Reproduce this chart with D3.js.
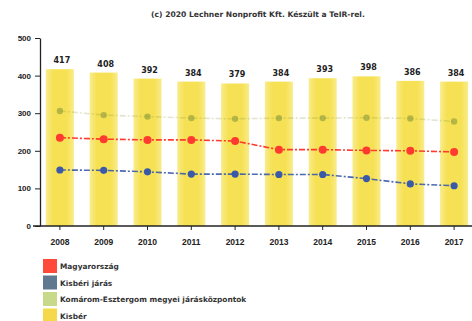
<!DOCTYPE html>
<html>
<head>
<meta charset="utf-8">
<script src="https://cdn.jsdelivr.net/npm/d3@7"></script>
<style>
  html, body { margin: 0; padding: 0; background: #fff; }
  svg { display: block; font-family: "DejaVu Sans", sans-serif; }
</style>
</head>
<body>
<svg id="chart" width="472" height="321"></svg>
<script>
// Years on the x axis
const years = ["2008", "2009", "2010", "2011", "2012", "2013", "2014", "2015", "2016", "2017"];
// Kisbér (bars)
const kisber = [417, 408, 392, 384, 379, 384, 393, 398, 386, 384];
// Magyarország
const magyarorszag = [235, 231, 229, 229, 226, 203, 203, 201, 200, 197];
// Kisbéri járás
const kisberiJaras = [149, 148, 144, 138, 138, 137, 137, 126, 112, 107];
// Komárom-Esztergom megyei járásközpontok
const komarom = [306, 295, 291, 287, 285, 287, 287, 288, 286, 278];
const yTicks = [0, 100, 200, 300, 400, 500];
const legendLabels = ["Magyarország", "Kisbéri járás", "Komárom-Esztergom megyei járásközpontok", "Kisbér"];

const svg = d3.select("#chart");
const defs = svg.append("defs");
const grad = defs.append("linearGradient").attr("id", "barGrad")
  .attr("x1", "0%").attr("x2", "100%").attr("y1", "0%").attr("y2", "0%");
grad.append("stop").attr("offset", "0%").attr("stop-color", "#f9ec8c");
grad.append("stop").attr("offset", "25%").attr("stop-color", "#f6e155");
grad.append("stop").attr("offset", "75%").attr("stop-color", "#f6e155");
grad.append("stop").attr("offset", "100%").attr("stop-color", "#f9ec8c");

const x = d3.scaleBand().domain(years).range([38, 476]).paddingInner(0.36).paddingOuter(0.18);
const y = d3.scaleLinear().domain([0, 500]).range([226, 38]);
const cx = d => x(d) + x.bandwidth() / 2;

// Bars
svg.append("g").selectAll("rect").data(years).join("rect")
  .attr("x", d => x(d))
  .attr("y", (d, i) => y(kisber[i]))
  .attr("width", x.bandwidth())
  .attr("height", (d, i) => y(0) - y(kisber[i]))
  .attr("fill", "url(#barGrad)");

// Bar value labels
svg.append("g").selectAll("text").data(years).join("text")
  .attr("x", d => cx(d) + 2)
  .attr("y", (d, i) => y(kisber[i]) - 6)
  .attr("text-anchor", "middle")
  .attr("font-size", 8).attr("font-weight", "bold").attr("fill", "#222")
  .text((d, i) => kisber[i]);

// Line series
const line = d3.line().x((d, i) => cx(years[i])).y(d => y(d));
const series = [
  { vals: komarom, color: "#8a9a3a", lineOpacity: 0.25, pointOpacity: 0.6, r: 3.2 },
  { vals: magyarorszag, color: "#ff3b30", lineOpacity: 1, pointOpacity: 1, r: 4 },
  { vals: kisberiJaras, color: "#3a5aa8", lineOpacity: 0.9, pointOpacity: 1, r: 3.6 }
];
series.forEach(s => {
  svg.append("path").datum(s.vals)
    .attr("d", line).attr("fill", "none")
    .attr("stroke", s.color).attr("stroke-width", 1.6)
    .attr("stroke-dasharray", "6,2,2,2")
    .attr("opacity", s.lineOpacity);
  svg.append("g").selectAll("circle").data(s.vals).join("circle")
    .attr("cx", (d, i) => cx(years[i])).attr("cy", d => y(d))
    .attr("r", s.r).attr("fill", s.color).attr("opacity", s.pointOpacity);
});

// Axes
const yAxis = svg.append("g").attr("transform", "translate(40,0)")
  .call(d3.axisLeft(y).tickValues(yTicks).tickSize(5).tickSizeOuter(0));
yAxis.select(".domain").attr("stroke", "#222").attr("stroke-width", 1.3);
yAxis.selectAll(".tick line").attr("stroke", "#222");
yAxis.selectAll("text").attr("font-size", 8).attr("font-weight", "bold").attr("fill", "#222").attr("x", -9);

const xAxis = svg.append("g").attr("transform", "translate(0,226)")
  .call(d3.axisBottom(x).tickSize(4).tickSizeOuter(0));
xAxis.select(".domain").attr("stroke", "#222").attr("stroke-width", 1.3).attr("d", "M33,0H472");
xAxis.selectAll(".tick line").attr("stroke", "#222");
xAxis.selectAll("text").attr("font-size", 8.5).attr("font-weight", "bold").attr("fill", "#222").attr("y", 13);

// Title
svg.append("text").attr("x", 258).attr("y", 17).attr("text-anchor", "middle")
  .attr("font-size", 7.6).attr("font-weight", "bold").attr("fill", "#333")
  .text("(c) 2020 Lechner Nonprofit Kft. Készült a TeIR-rel.");

// Legend
const legColors = ["#ff4a3a", "#5f7a90", "#c9d98a", "#f6d94a"];
const leg = svg.append("g").selectAll("g").data(legendLabels).join("g")
  .attr("transform", (d, i) => `translate(43,${259 + i * 16.5})`);
leg.append("rect").attr("width", 14).attr("height", 14).attr("fill", (d, i) => legColors[i]);
leg.append("text").attr("x", 17).attr("y", 10).attr("font-size", 7.4).attr("font-weight", "bold")
  .attr("fill", "#333").text(d => d);
</script>
</body>
</html>
